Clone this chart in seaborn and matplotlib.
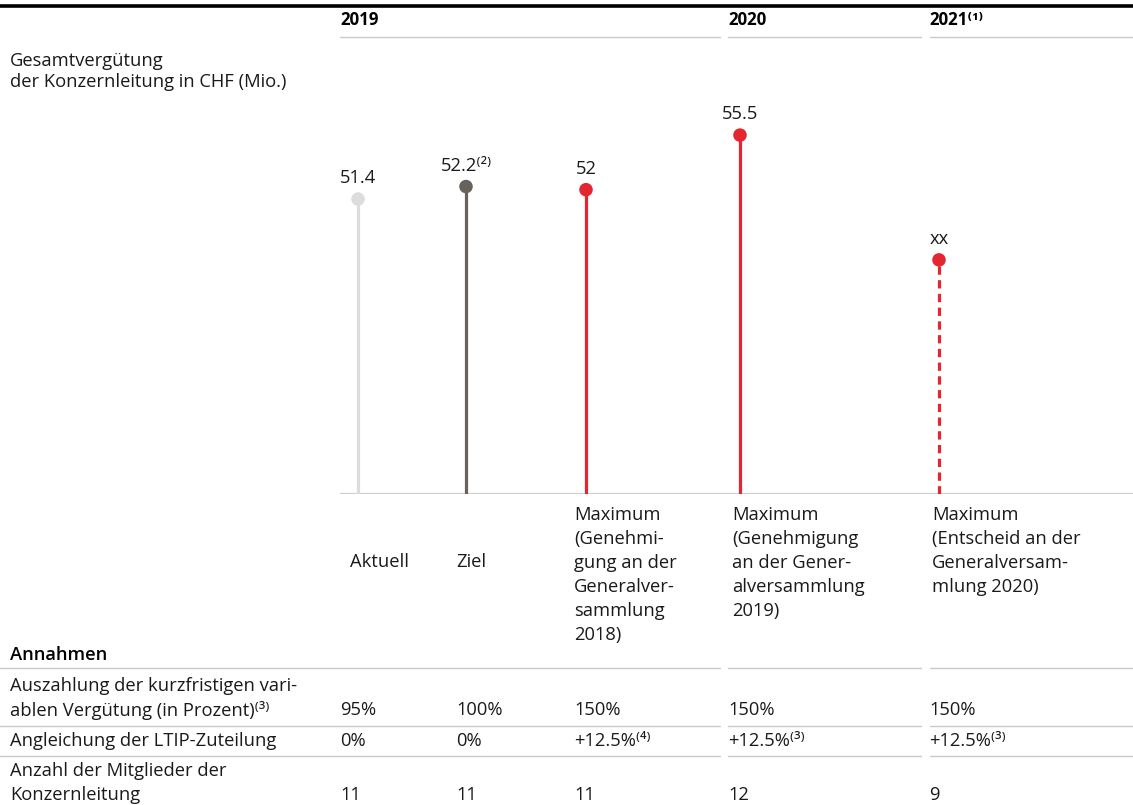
import matplotlib
matplotlib.use("Agg")
import matplotlib.pyplot as plt
import seaborn as sns
import pandas as pd

# ---------------- data ----------------
categories = ["Aktuell", "Ziel", "Max 2019", "Max 2020", "Max 2021"]
values = [51.4, 52.2, 52.0, 55.5, 47.5]
value_labels = ["51.4", "52.2⁽²⁾", "52", "55.5", "xx"]
colors = ["#dcdcdc", "#67635c", "#e3262f", "#e3262f", "#e3262f"]
dashed = [False, False, False, False, True]

year_headers = ["2019", "2020", "2021⁽¹⁾"]
cat_labels = [
    ["Aktuell"],
    ["Ziel"],
    ["Maximum", "(Genehmi-", "gung an der", "Generalver-", "sammlung", "2018)"],
    ["Maximum", "(Genehmigung", "an der Gener-", "alversammlung", "2019)"],
    ["Maximum", "(Entscheid an der", "Generalversam-", "mlung 2020)"],
]
row_labels = [
    ["Auszahlung der kurzfristigen vari-", "ablen Vergütung (in Prozent)⁽³⁾"],
    ["Angleichung der LTIP-Zuteilung"],
    ["Anzahl der Mitglieder der", "Konzernleitung"],
]
row_values = [
    ["95%", "100%", "150%", "150%", "150%"],
    ["0%", "0%", "+12.5%⁽⁴⁾", "+12.5%⁽³⁾", "+12.5%⁽³⁾"],
    ["11", "11", "11", "12", "9"],
]

# ---------------- layout ----------------
W, H = 1133, 805
sns.set_theme(style="white")
plt.rcParams["font.family"] = ["Open Sans", "DejaVu Sans"]
FS = 13.2
TXT = "#1a1a1a"
LINE = "#c9c9c9"

fig = plt.figure(figsize=(W / 100, H / 100), dpi=100)

# overlay axes in pixel coordinates for table text and rules
ov = fig.add_axes([0, 0, 1, 1])
ov.set_xlim(0, W)
ov.set_ylim(H, 0)
ov.axis("off")

# top thick rule
ov.plot([0, W], [6, 6], color="black", lw=2.6, solid_capstyle="butt")

# column groups (x ranges)
groups = [(340, 720), (728, 921), (930, W)]
header_x = [340, 728, 929]
for (x0, x1), hx, lab in zip(groups, header_x, year_headers):
    ov.plot([x0, x1], [37, 37], color=LINE, lw=1.0)
    ov.text(hx, 20, lab, fontsize=FS - 1, fontweight="bold", color="black",
            va="center", ha="left")

ov.text(10, 61, "Gesamtvergütung", fontsize=FS, color=TXT, va="center")
ov.text(10, 82, "der Konzernleitung in CHF (Mio.)", fontsize=FS, color=TXT, va="center")

# category labels below axis
cat_x = [350, 456, 574, 732, 932]
cat_start = [562, 562, 515, 515, 515]
for cx, cy, lines in zip(cat_x, cat_start, cat_labels):
    for i, ln in enumerate(lines):
        ov.text(cx, cy + i * 24, ln, fontsize=FS, color=TXT, va="center", ha="left")

# table
ov.text(10, 655, "Annahmen", fontsize=FS, fontweight="semibold", color="black", va="center")
table_groups = [(0, 720), (728, 921), (930, W)]
for ly in [668, 726, 756]:
    for x0, x1 in table_groups:
        ov.plot([x0, x1], [ly, ly], color=LINE, lw=1.0)

val_x = [340, 456, 574, 728, 929]
row_first_y = [686, 741, 771]
for lines, vals, y0 in zip(row_labels, row_values, row_first_y):
    for i, ln in enumerate(lines):
        ov.text(10, y0 + i * 24, ln, fontsize=FS, color=TXT, va="center")
    vy = y0 + (len(lines) - 1) * 24
    for vx, v in zip(val_x, vals):
        ov.text(vx, vy, v, fontsize=FS, color=TXT, va="center")

# ---------------- lollipop axes ----------------
ax_left, ax_right, ax_bottom, ax_top = 340, W, 494, 100
ax = fig.add_axes([ax_left / W, 1 - ax_bottom / H,
                   (ax_right - ax_left) / W, (ax_bottom - ax_top) / H])
ax.patch.set_alpha(0)
ax.set_xlim(ax_left, ax_right)
y0v, y1v = 32.49, 57.75
ax.set_ylim(y0v, y1v)

x_pos = [358, 466, 586, 740, 939]
df = pd.DataFrame({"x": x_pos, "value": values, "cat": categories})

for xp, v, c, d in zip(x_pos, values, colors, dashed):
    ax.vlines(xp, y0v, v, colors=c, lw=2.3,
              linestyles=(0, (2.6, 1.7)) if d else "solid", zorder=2)

sns.scatterplot(data=df, x="x", y="value", hue="cat", palette=colors,
                s=95, edgecolor="none", legend=False, ax=ax, zorder=3)

for xp, v, lab in zip(x_pos, values, value_labels):
    ax.annotate(lab, (xp, v), xytext=(0, 15), textcoords="offset points",
                ha="center", va="center", fontsize=FS, color=TXT)

ax.axhline(y0v, color="#d0d0d0", lw=1.6, zorder=1)
for s in ax.spines.values():
    s.set_visible(False)
ax.set_xticks([])
ax.set_yticks([])
ax.set_xlabel("")
ax.set_ylabel("")

fig.savefig("out.png", dpi=100)
